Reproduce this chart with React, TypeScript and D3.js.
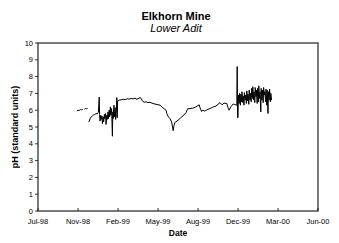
import * as d3 from 'd3'
import React from 'react'

// lower adit pH record, [date, pH]; null marks a break in the logger record
const readings: [string, number | null][] = [
  ['1998-10-29', 5.95], ['1998-11-01', 6.0], ['1998-11-04', 5.98], ['1998-11-07', 6.04],
  ['1998-11-10', 6.02], ['1998-11-13', 6.05], ['1998-11-15', null],
  ['1998-11-17', 6.06], ['1998-11-20', 6.1], ['1998-11-23', 6.08], ['1998-11-25', 6.13],
  ['1998-11-27', null],
  ['1998-11-28', 5.3], ['1998-12-01', 5.48], ['1998-12-04', 5.6], ['1998-12-07', 5.66],
  ['1998-12-10', 5.72], ['1998-12-13', 5.74], ['1998-12-16', 5.8], ['1998-12-19', 5.78],
  ['1998-12-22', 5.88], ['1998-12-24', 6.78], ['1998-12-25', 5.75], ['1998-12-26', 5.35],
  ['1998-12-28', 5.7], ['1998-12-29', 5.45], ['1998-12-31', 5.65], ['1999-01-01', 5.2],
  ['1999-01-03', 5.6], ['1999-01-04', 5.3], ['1999-01-06', 5.75], ['1999-01-07', 5.5],
  ['1999-01-09', 5.8], ['1999-01-10', 5.15], ['1999-01-12', 5.7], ['1999-01-13', 5.45],
  ['1999-01-15', 5.9], ['1999-01-16', 5.5], ['1999-01-18', 6.0], ['1999-01-19', 5.6],
  ['1999-01-21', 6.2], ['1999-01-22', 5.7], ['1999-01-24', 6.1], ['1999-01-26', 4.45],
  ['1999-01-27', 5.9], ['1999-01-28', 5.5], ['1999-01-30', 6.3], ['1999-01-31', 5.6],
  ['1999-02-02', 6.15], ['1999-02-03', 5.45], ['1999-02-05', 6.0], ['1999-02-06', 6.75],
  ['1999-02-07', 5.55], ['1999-02-08', 6.55], ['1999-02-12', 6.6], ['1999-02-17', 6.62],
  ['1999-02-22', 6.65], ['1999-02-27', 6.63], ['1999-03-04', 6.68], ['1999-03-09', 6.66],
  ['1999-03-14', 6.7], ['1999-03-19', 6.68], ['1999-03-24', 6.72], ['1999-03-26', 6.65],
  ['1999-03-31', 6.68], ['1999-04-05', 6.75], ['1999-04-08', 6.7], ['1999-04-11', 6.55],
  ['1999-04-13', 6.5], ['1999-04-17', 6.48], ['1999-04-21', 6.5], ['1999-04-25', 6.45],
  ['1999-04-30', 6.47], ['1999-05-05', 6.42], ['1999-05-10', 6.38], ['1999-05-25', 6.3],
  ['1999-06-01', 6.15], ['1999-06-09', 6.0], ['1999-06-11', 5.8], ['1999-06-15', 5.6],
  ['1999-06-19', 5.5], ['1999-06-23', 5.3], ['1999-06-27', 4.78], ['1999-06-29', 5.1],
  ['1999-07-01', 5.26], ['1999-07-09', 5.4], ['1999-07-16', 5.55], ['1999-07-24', 5.72],
  ['1999-07-29', 5.85], ['1999-08-02', 6.08], ['1999-08-08', 6.1], ['1999-08-15', 6.12],
  ['1999-08-23', 6.2], ['1999-08-31', 6.32], ['1999-09-02', 6.15], ['1999-09-06', 5.92],
  ['1999-09-09', 6.0], ['1999-09-14', 5.95], ['1999-09-19', 6.02], ['1999-09-27', 6.1],
  ['1999-10-04', 6.18], ['1999-10-12', 6.25], ['1999-10-17', 6.35], ['1999-10-22', 6.45],
  ['1999-10-27', 6.32], ['1999-11-01', 6.42], ['1999-11-08', 6.4], ['1999-11-11', 6.15],
  ['1999-11-14', 6.0], ['1999-11-18', 6.2], ['1999-11-24', 6.37], ['1999-11-28', 6.33],
  ['1999-12-03', 6.3], ['1999-12-04', 8.6], ['1999-12-05', 5.55],
  ['1999-12-06', 5.55], ['1999-12-07', 6.9], ['1999-12-09', 6.4], ['1999-12-10', 7.0],
  ['1999-12-12', 6.3], ['1999-12-13', 6.95], ['1999-12-15', 6.5], ['1999-12-16', 7.1],
  ['1999-12-18', 6.45], ['1999-12-19', 6.85], ['1999-12-21', 6.3], ['1999-12-22', 7.05],
  ['1999-12-24', 6.6], ['1999-12-25', 6.9], ['1999-12-27', 6.4], ['1999-12-28', 7.15],
  ['1999-12-30', 6.55], ['1999-12-31', 6.95], ['2000-01-02', 6.35], ['2000-01-03', 7.2],
  ['2000-01-05', 6.6], ['2000-01-06', 7.0], ['2000-01-08', 6.5], ['2000-01-09', 7.3],
  ['2000-01-11', 6.7], ['2000-01-12', 7.4], ['2000-01-14', 6.6], ['2000-01-15', 7.1],
  ['2000-01-17', 6.45], ['2000-01-18', 7.35], ['2000-01-20', 6.8], ['2000-01-21', 7.2],
  ['2000-01-23', 6.4], ['2000-01-24', 7.3], ['2000-01-26', 6.5], ['2000-01-27', 7.45],
  ['2000-01-29', 6.7], ['2000-01-30', 7.1], ['2000-02-01', 5.9], ['2000-02-02', 7.3],
  ['2000-02-04', 6.6], ['2000-02-05', 7.2], ['2000-02-07', 6.45], ['2000-02-08', 7.35],
  ['2000-02-10', 6.9], ['2000-02-11', 7.1], ['2000-02-13', 6.5], ['2000-02-14', 7.25],
  ['2000-02-16', 6.3], ['2000-02-17', 7.2], ['2000-02-19', 5.8], ['2000-02-20', 7.1],
  ['2000-02-22', 6.6], ['2000-02-23', 7.25], ['2000-02-25', 6.5], ['2000-02-26', 7.0],
  ['2000-02-28', 6.6],
]

// excel style date axis: 100 day steps from Jul 24 1998
const xTickDates = ['1998-07-24', '1998-11-01', '1999-02-09', '1999-05-20',
  '1999-08-28', '1999-12-06', '2000-03-15', '2000-06-23']
const yTicks = [0, 1, 2, 3, 4, 5, 6, 7, 8, 9, 10]

const title = 'Elkhorn Mine'
const subtitle = 'Lower Adit'
const xTitle = 'Date'
const yTitle = 'pH (standard units)'

const W = 339
const H = 243
const left = 38, right = 318, top = 43, bottom = 211
const font = 'Arial, "Liberation Sans", Helvetica, sans-serif'

export default function App() {
  const parse = d3.utcParse('%Y-%m-%d')
  const fmt = d3.utcFormat('%b-%y')
  const ticks = xTickDates.map(s => parse(s) as Date)

  const x = d3.scaleUtc().domain([ticks[0], ticks[ticks.length - 1]]).range([left, right])
  const y = d3.scaleLinear().domain([0, 10]).range([bottom, top])

  const data = readings.map(([d, v]) => ({ date: parse(d) as Date, ph: v }))
  const line = d3.line<{ date: Date; ph: number | null }>()
    .defined(d => d.ph != null)
    .x(d => x(d.date))
    .y(d => y(d.ph as number))

  return (
    <svg width={W} height={H} style={{ position: 'absolute', left: 0, top: 0, background: '#fff' }}
      fontFamily={font}>
      <text x={176} y={20} textAnchor="middle" fontSize={11} fontWeight="bold">{title}</text>
      <text x={176} y={32} textAnchor="middle" fontSize={11} fontStyle="italic">{subtitle}</text>

      {/* y ticks, outside */}
      {yTicks.map(t => (
        <g key={t}>
          <line x1={left - 3} x2={left} y1={y(t)} y2={y(t)} stroke="#000" strokeWidth={0.8} />
          <text x={left - 5} y={y(t) + 2.6} textAnchor="end" fontSize={7.5}>{t}</text>
        </g>
      ))}

      {/* x ticks, inside */}
      {ticks.map((t, i) => (
        <g key={i}>
          <line x1={x(t)} x2={x(t)} y1={bottom - 3} y2={bottom} stroke="#000" strokeWidth={0.8} />
          <text x={x(t)} y={223.5} textAnchor="middle" fontSize={7.5}>{fmt(t)}</text>
        </g>
      ))}

      <path d={line(data) || ''} fill="none" stroke="#000" strokeWidth={1} strokeLinejoin="round" />

      <rect x={left} y={top} width={right - left} height={bottom - top} fill="none"
        stroke="#222" strokeWidth={1.2} />

      <text x={(left + right) / 2} y={235.5} textAnchor="middle" fontSize={8.5} fontWeight="bold">{xTitle}</text>
      <text transform={`translate(17.5,${(top + bottom) / 2}) rotate(-90)`} textAnchor="middle"
        fontSize={9} fontWeight="bold">{yTitle}</text>
    </svg>
  )
}
